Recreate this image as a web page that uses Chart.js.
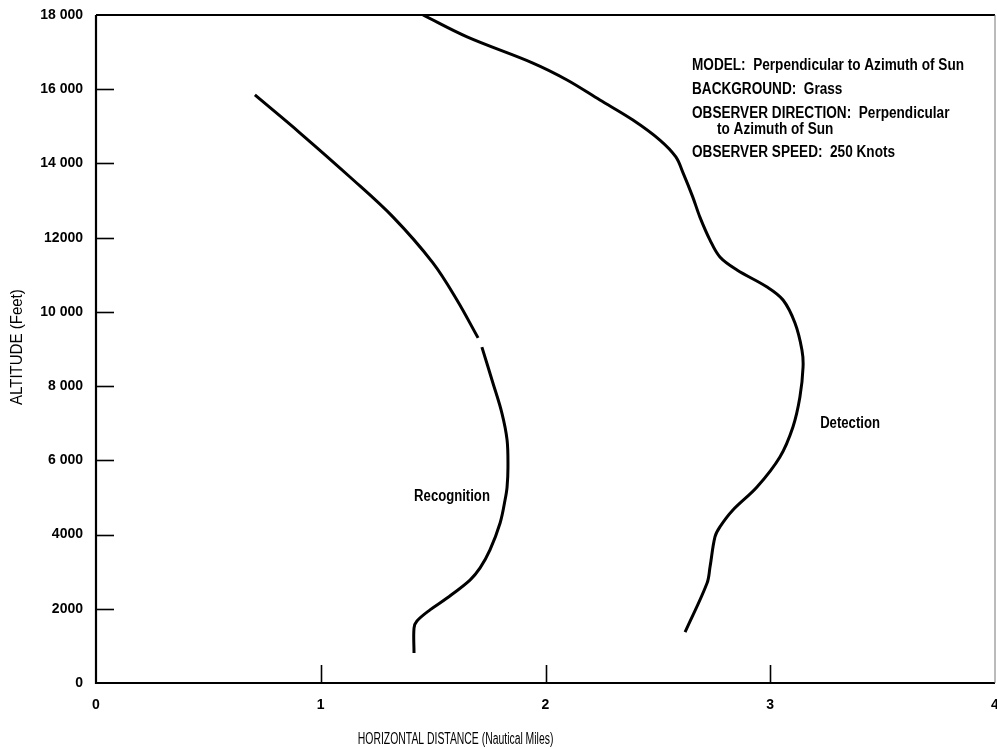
<!DOCTYPE html>
<html>
<head>
<meta charset="utf-8">
<script src="https://cdn.jsdelivr.net/npm/chart.js@4/dist/chart.umd.min.js"></script>
<style>
  html, body { margin: 0; padding: 0; background: #fff; }
  canvas { display: block; }
</style>
</head>
<body>
<canvas id="chart" width="997" height="749"></canvas>
<script>
// Horizontal distance (nautical miles) vs. altitude (feet)
const recognitionX = [1.415, 1.415, 1.428, 1.486, 1.562, 1.664, 1.709, 1.753, 1.798, 1.820, 1.829, 1.833, 1.829, 1.806, 1.766, 1.717, null, 1.700, 1.606, 1.499, 1.321, 1.130, 0.908, 0.707];
const recognitionY = [810, 1480, 1670, 1970, 2290, 2775, 3100, 3585, 4310, 4930, 5280, 5820, 6550, 7275, 8085, 9050, null, 9300, 10320, 11320, 12560, 13635, 14820, 15845];

const detectionX = [2.621, 2.719, 2.732, 2.754, 2.776, 2.834, 2.941, 3.043, 3.101, 3.132, 3.146, 3.141, 3.110, 3.057, 2.986, 2.852, 2.776, 2.732, 2.687, 2.655, 2.612, 2.580, 2.509, 2.389, 2.242, 2.096, 1.944, 1.651, 1.455];
const detectionY = [1370, 2695, 3125, 3935, 4205, 4660, 5280, 6090, 6900, 7705, 8515, 8975, 9700, 10320, 10670, 11130, 11480, 11935, 12555, 13100, 13745, 14175, 14630, 15170, 15710, 16250, 16705, 17410, 18000];

const xTickValues = [0, 1, 2, 3, 4];
const xTickLabels = ['0', '1', '2', '3', '4'];
const yTickValues = [0, 2000, 4000, 6000, 8000, 10000, 12000, 14000, 16000, 18000];
const yTickLabels = ['0', '2000', '4000', '6 000', '8 000', '10 000', '12000', '14 000', '16 000', '18 000'];

const noteLines = [
  { text: 'MODEL:  Perpendicular to Azimuth of Sun', indent: 0, baseline: 70 },
  { text: 'BACKGROUND:  Grass', indent: 0, baseline: 94 },
  { text: 'OBSERVER DIRECTION:  Perpendicular', indent: 0, baseline: 118 },
  { text: 'to Azimuth of Sun', indent: 1, baseline: 134 },
  { text: 'OBSERVER SPEED:  250 Knots', indent: 0, baseline: 157 }
];

const curveLabels = [
  { text: 'Recognition', x: 1.584, y: 5010 },
  { text: 'Detection', x: 3.355, y: 6990 }
];

const FONT = '"Liberation Sans Narrow", "Arial Narrow", "Liberation Sans", sans-serif';

function toPoints(xs, ys) {
  return xs.map((x, i) => ({ x: x, y: ys[i] }));
}

// condensed text: draw with a horizontal squeeze
function squeezed(ctx, text, x, y, sx, align) {
  ctx.save();
  ctx.translate(x, y);
  ctx.scale(sx, 1);
  ctx.textAlign = align;
  ctx.fillText(text, 0, 0);
  ctx.restore();
}

// Inward tick marks, frame and text annotations
const decorations = {
  id: 'decorations',
  afterDatasetsDraw(chart) {
    const ctx = chart.ctx;
    const xs = chart.scales.x, ys = chart.scales.y;
    const a = chart.chartArea;
    ctx.save();
    ctx.strokeStyle = '#000';
    ctx.lineCap = 'butt';

    // frame
    ctx.lineWidth = 2.2;
    ctx.beginPath();
    ctx.moveTo(a.left, a.top);
    ctx.lineTo(a.left, a.bottom);
    ctx.lineTo(a.right, a.bottom);
    ctx.stroke();
    ctx.lineWidth = 1.8;
    ctx.beginPath();
    ctx.moveTo(a.left, a.top);
    ctx.lineTo(a.right, a.top);
    ctx.stroke();
    ctx.lineWidth = 1;
    ctx.strokeStyle = '#777';
    ctx.beginPath();
    ctx.moveTo(a.right, a.top);
    ctx.lineTo(a.right, a.bottom);
    ctx.stroke();

    // ticks pointing into the plot
    ctx.strokeStyle = '#000';
    ctx.lineWidth = 1.6;
    yTickValues.slice(1, -1).forEach(v => {
      const py = Math.round(ys.getPixelForValue(v)) + 0.5;
      ctx.beginPath();
      ctx.moveTo(a.left, py);
      ctx.lineTo(a.left + 18, py);
      ctx.stroke();
    });
    xTickValues.slice(1, -1).forEach(v => {
      const px = Math.round(xs.getPixelForValue(v)) + 0.5;
      ctx.beginPath();
      ctx.moveTo(px, a.bottom);
      ctx.lineTo(px, a.bottom - 18);
      ctx.stroke();
    });

    // curve names
    ctx.fillStyle = '#000';
    ctx.font = 'bold 16px ' + FONT;
    ctx.textBaseline = 'middle';
    curveLabels.forEach(l => {
      squeezed(ctx, l.text, xs.getPixelForValue(l.x), ys.getPixelForValue(l.y), 0.82, 'center');
    });

    // condition notes
    ctx.textBaseline = 'alphabetic';
    const nx = 692;
    noteLines.forEach(l => {
      squeezed(ctx, l.text, nx + l.indent * 25, l.baseline, 0.85, 'left');
    });

    // axis titles
    ctx.font = '16px ' + FONT;
    ctx.textBaseline = 'middle';
    squeezed(ctx, 'HORIZONTAL DISTANCE (Nautical Miles)', xs.getPixelForValue(1.6), 740, 0.65, 'center');
    ctx.translate(18, ys.getPixelForValue(9050));
    ctx.rotate(-Math.PI / 2);
    squeezed(ctx, 'ALTITUDE (Feet)', 0, 0, 0.94, 'center');
    ctx.restore();
  }
};

const lineStyle = {
  borderColor: '#000',
  borderWidth: 3,
  pointRadius: 0,
  showLine: true,
  fill: false,
  tension: 0.35,
  spanGaps: false
};

new Chart(document.getElementById('chart'), {
  type: 'scatter',
  data: {
    datasets: [
      Object.assign({ label: 'Recognition', data: toPoints(recognitionX, recognitionY) }, lineStyle),
      Object.assign({ label: 'Detection', data: toPoints(detectionX, detectionY) }, lineStyle)
    ]
  },
  options: {
    responsive: false,
    animation: false,
    layout: { padding: { top: 15, right: 2, left: 0, bottom: 0 } },
    plugins: {
      legend: { display: false },
      tooltip: { enabled: false }
    },
    scales: {
      x: {
        type: 'linear',
        min: 0,
        max: 4,
        afterBuildTicks: s => { s.ticks = xTickValues.map(v => ({ value: v })); },
        afterFit: s => { s.height = 66; s.paddingLeft = 0; s.paddingRight = 0; },
        border: { display: false },
        grid: { display: false, drawTicks: false },
        ticks: {
          color: '#000',
          padding: 14,
          font: { family: FONT, size: 14, weight: 'bold' },
          callback: (v) => xTickLabels[xTickValues.indexOf(v)],
          maxRotation: 0
        }
      },
      y: {
        type: 'linear',
        min: 0,
        max: 18000,
        afterBuildTicks: s => { s.ticks = yTickValues.map(v => ({ value: v })); },
        afterFit: s => { s.width = 96; s.paddingTop = 0; s.paddingBottom = 0; },
        border: { display: false },
        grid: { display: false, drawTicks: false },
        ticks: {
          color: '#000',
          padding: 13,
          font: { family: FONT, size: 14, weight: 'bold' },
          callback: (v) => yTickLabels[yTickValues.indexOf(v)]
        }
      }
    }
  },
  plugins: [decorations]
});
</script>
</body>
</html>
